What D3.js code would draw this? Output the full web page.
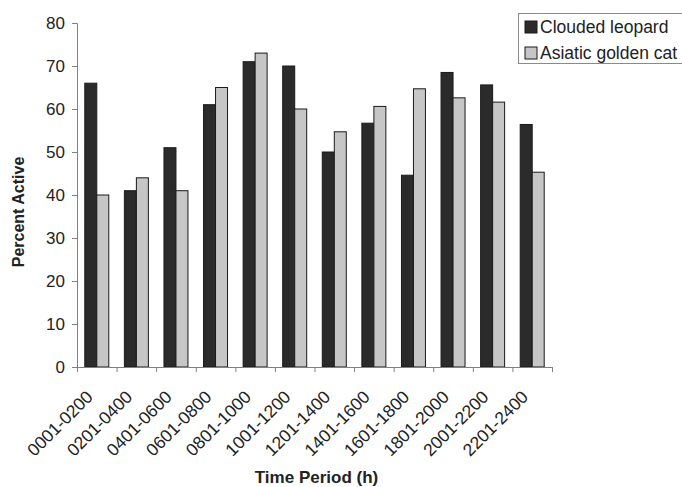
<!DOCTYPE html>
<html>
<head>
<meta charset="utf-8">
<script src="https://cdn.jsdelivr.net/npm/d3@7"></script>
<style>
  body { margin: 0; background: #fff; }
  text { font-family: "Liberation Sans", Arial, sans-serif; fill: #222; }
</style>
</head>
<body>
<script>
// time periods along the x axis
var periods = ['0001-0200', '0201-0400', '0401-0600', '0601-0800', '0801-1000', '1001-1200',
               '1201-1400', '1401-1600', '1601-1800', '1801-2000', '2001-2200', '2201-2400'];
var series = ['Clouded leopard', 'Asiatic golden cat'];
var leopard = [66, 41, 51, 61, 71, 70, 50, 56.7, 44.6, 68.5, 65.6, 56.4];
var goldenCat = [40, 44, 41, 65, 73, 60, 54.7, 60.6, 64.7, 62.6, 61.6, 45.3];
var yTicks = [0, 10, 20, 30, 40, 50, 60, 70, 80];

var w = 682;
var h = 487;
var plotLeft = 77, plotRight = 552, plotTop = 23, plotBottom = 367;
var colors = {'Clouded leopard': '#2b2b2b', 'Asiatic golden cat': '#c6c6c6'};

var rows = periods.map(function(p, i) {
    return {period: p, values: [
        {key: series[0], value: leopard[i]},
        {key: series[1], value: goldenCat[i]}
    ]};
});

var svg = d3.select('body')
            .append('svg')
            .attr('width', w)
            .attr('height', h);

var x0 = d3.scaleBand()
           .domain(periods)
           .range([plotLeft, plotRight])
           .padding(0);
var x1 = d3.scaleBand()
           .domain(series)
           .range([0, x0.bandwidth()])
           .paddingInner(0)
           .paddingOuter(0.65);
var yScale = d3.scaleLinear()
               .domain([0, 80])
               .range([plotBottom, plotTop]);

// bars
var groups = svg.selectAll('g.group')
   .data(rows)
   .enter()
   .append('g')
   .attr('class', 'group')
   .attr('transform', function(d) { return 'translate(' + x0(d.period) + ',0)'; });

groups.selectAll('rect')
   .data(function(d) { return d.values; })
   .enter()
   .append('rect')
   .attr('x', function(d) { return x1(d.key); })
   .attr('y', function(d) { return yScale(d.value); })
   .attr('width', x1.bandwidth())
   .attr('height', function(d) { return plotBottom - yScale(d.value); })
   .attr('fill', function(d) { return colors[d.key]; })
   .attr('stroke', '#1a1a1a')
   .attr('stroke-width', 1);

// y axis
var yAxis = svg.append('g')
   .attr('transform', 'translate(' + plotLeft + ',0)')
   .call(d3.axisLeft(yScale).tickValues(yTicks).tickSize(5).tickPadding(7));
yAxis.selectAll('text')
   .style('font-size', '17px')
   .style('font-family', '"Liberation Sans", Arial, sans-serif')
   .attr('fill', '#222');

// x axis: ticks sit between the periods
var xEdges = d3.scaleLinear().domain([0, periods.length]).range([plotLeft, plotRight]);
svg.append('g')
   .attr('transform', 'translate(0,' + plotBottom + ')')
   .call(d3.axisBottom(xEdges).ticks(periods.length).tickSize(5).tickFormat(''));

svg.selectAll('.domain, .tick line')
   .attr('stroke', '#808080');

svg.selectAll('text.period')
   .data(periods)
   .enter()
   .append('text')
   .attr('class', 'period')
   .attr('text-anchor', 'end')
   .attr('transform', function(d) {
        return 'translate(' + (x0(d) + x0.bandwidth() / 2 - 3) + ',' + (plotBottom + 31) + ') rotate(-45)';
   })
   .style('font-size', '17.5px')
   .text(function(d) { return d; });

// axis titles
svg.append('text')
   .attr('x', (plotLeft + plotRight) / 2 + 2)
   .attr('y', 483)
   .attr('text-anchor', 'middle')
   .style('font-size', '17px')
   .style('font-weight', 'bold')
   .text('Time Period (h)');

svg.append('text')
   .attr('transform', 'translate(24,212) rotate(-90)')
   .attr('text-anchor', 'middle')
   .style('font-size', '16px')
   .style('font-weight', 'bold')
   .text('Percent Active');

// legend
var legend = svg.append('g');
legend.append('rect')
   .attr('x', 518.5)
   .attr('y', 13.5)
   .attr('width', 180)
   .attr('height', 50)
   .attr('fill', '#fff')
   .attr('stroke', '#8a8a8a');

var items = legend.selectAll('g.item')
   .data(series)
   .enter()
   .append('g')
   .attr('class', 'item')
   .attr('transform', function(d, i) { return 'translate(525,' + (21 + i * 26) + ')'; });
items.append('rect')
   .attr('width', 12)
   .attr('height', 12)
   .attr('fill', function(d) { return colors[d]; })
   .attr('stroke', '#1a1a1a');
items.append('text')
   .attr('x', 15)
   .attr('y', 12)
   .style('font-size', '17.5px')
   .text(function(d) { return d; });
</script>
</body>
</html>
